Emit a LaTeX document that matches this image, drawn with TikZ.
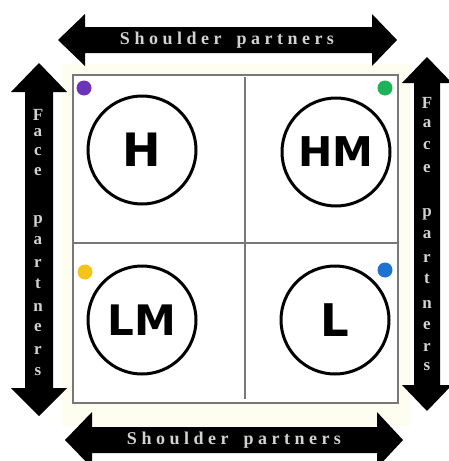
\documentclass[tikz,border=0pt]{standalone}
\usepackage{fontspec}
\newfontfamily\arrowfont[LetterSpace=25]{Liberation Serif}
\newfontfamily\vertfont{Liberation Serif}
\newfontfamily\circfont{DejaVu Sans}
\definecolor{cream}{RGB}{253,253,240}
\definecolor{boxgray}{RGB}{120,120,120}
\definecolor{txtgray}{RGB}{210,210,210}
\definecolor{dotpurple}{RGB}{108,52,184}
\definecolor{dotgreen}{RGB}{30,178,90}
\definecolor{dotyellow}{RGB}{245,196,24}
\definecolor{dotblue}{RGB}{30,115,208}
\tikzset{
  arrowshape/.style={fill=black, draw=none},
  quad/.style={circle, draw=black, line width=3, minimum size=108, inner sep=0},
  htext/.style={text=txtgray, font=\arrowfont\bfseries\fontsize{18}{20}\selectfont, inner sep=0},
  vletter/.style={text=txtgray, font=\vertfont\bfseries\fontsize{17}{20}\selectfont, inner sep=0, anchor=center},
  dot/.style={circle, inner sep=0, minimum size=15},
}
\begin{document}
\begin{tikzpicture}[x=1pt, y=-1pt]
\useasboundingbox (0,0) rectangle (449,461);
\begin{scope}
\clip (0,0) rectangle (449,461);
% cream background
\fill[cream] (62,64) rectangle (410,426);
% top arrow
\fill[arrowshape] (58,40) -- (85,14) -- (85,27) -- (372,27) -- (372,14) -- (397,40)
  -- (372,66) -- (372,53) -- (85,53) -- (85,66) -- cycle;
% bottom arrow
\fill[arrowshape] (65,440) -- (92,412) -- (92,427) -- (377,427) -- (377,412) -- (403,440)
  -- (377,468) -- (377,453) -- (92,453) -- (92,468) -- cycle;
% left arrow
\fill[arrowshape] (39,63) -- (67,92) -- (53,92) -- (53,388) -- (67,388) -- (39,416)
  -- (11,388) -- (25,388) -- (25,92) -- (11,92) -- cycle;
% right arrow
\fill[arrowshape] (427,57) -- (452,83) -- (440,83) -- (440,385) -- (452,385) -- (427,411)
  -- (402,385) -- (414,385) -- (414,83) -- (402,83) -- cycle;
\end{scope}
% box
\draw[boxgray, line width=2, fill=white] (73,75) rectangle (398,403);
\draw[boxgray, line width=1.4] (245,77) -- (245,399);
\draw[boxgray, line width=1.4] (74,243) -- (397,243);
% circles
\node[quad, font=\circfont\bfseries\fontsize{46}{50}\selectfont] (H) at (142,150) {H};
\node[quad, font=\circfont\bfseries\fontsize{41}{46}\selectfont] (HM) at (336,152) {HM};
\node[quad, font=\circfont\bfseries\fontsize{42}{46}\selectfont] (LM) at (142,320) {LM};
\node[quad, font=\circfont\bfseries\fontsize{45}{50}\selectfont] (L) at (335,320) {L};
% dots
\node[dot, fill=dotpurple] (dp) at (84,88) {};
\node[dot, fill=dotgreen] (dg) at (385,88) {};
\node[dot, fill=dotyellow] (dy) at (85,272) {};
\node[dot, fill=dotblue] (db) at (385,270) {};
% horizontal labels
\node[htext] (toplabel) at (227,40) {Shoulder\kern15pt partners};
\node[htext] (botlabel) at (234,440) {Shoulder\kern15pt partners};
% vertical labels
\foreach \ch/\yy [count=\i] in {F/115, a/133, c/152, e/172, p/221, a/241, r/263, t/284, n/307, e/328, r/350, s/372}
  \node[vletter] (lv\i) at (38,\yy) {\ch};
\foreach \ch/\yy [count=\i] in {F/103, a/124, c/146, e/169, p/214, a/235, r/258, t/279, n/304, e/326, r/347, s/367}
  \node[vletter] (rv\i) at (427,\yy) {\ch};
\end{tikzpicture}
\end{document}
